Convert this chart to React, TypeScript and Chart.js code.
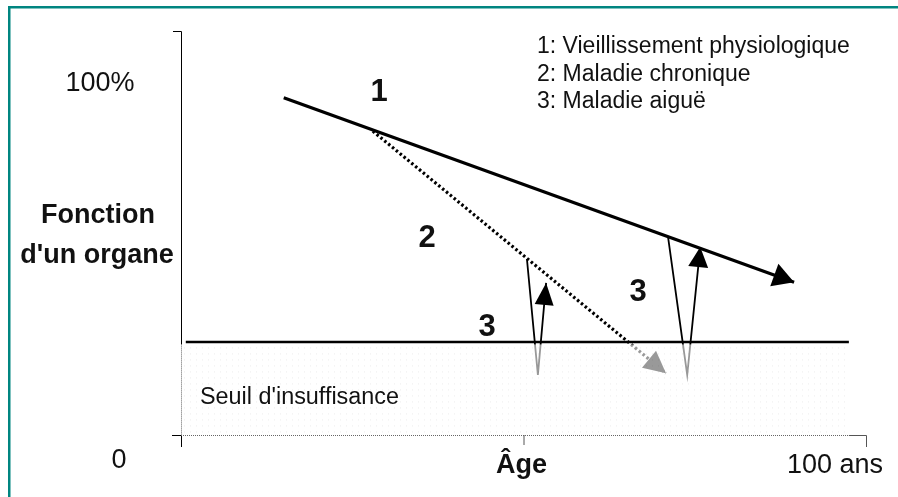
import React, { useEffect, useRef } from "react";
import { Chart, registerables } from "chart.js";
Chart.register(...registerables);

// ---- data (age 0..100 on x, organ function % on y) ----
const agingLine = [
  { x: 15, y: 96 },
  { x: 89.5, y: 43.5 },
];
const chronicLine = [
  { x: 28, y: 86.5 },
  { x: 70.8, y: 17.6 },
];
const acuteA = [
  { x: 50.5, y: 50.1 },
  { x: 52.1, y: 17.1 },
  { x: 53.3, y: 43.3 },
];
const acuteB = [
  { x: 71.1, y: 56.4 },
  { x: 73.9, y: 17.1 },
  { x: 75.8, y: 53.5 },
];
const thresholdValue = 26.5;
const thresholdRange = [0.7, 97.5];
const xRange = [0, 100];
const yRange = [0, 115];
const xMidTick = 50;
const legendLines = ["1: Vieillissement physiologique", "2: Maladie chronique", "3: Maladie aiguë"];
const yTickLabels = ["0", "100%"];
const xTickLabels = ["Âge", "100 ans"];
const yTitle = ["Fonction", "d'un organe"];
const thresholdLabel = "Seuil d'insuffisance";
const curveNumbers = ["1", "2", "3", "3"];

const FONT = '"Liberation Sans", Arial, Helvetica, sans-serif';
const INK = "#111";

function arrowHead(ctx: CanvasRenderingContext2D, from: any, tip: any, len: number, half: number, color: string) {
  const ang = Math.atan2(tip.y - from.y, tip.x - from.x);
  const c = Math.cos(ang), s = Math.sin(ang);
  const bx = tip.x - len * c, by = tip.y - len * s;
  ctx.save();
  ctx.fillStyle = color;
  ctx.beginPath();
  ctx.moveTo(tip.x, tip.y);
  ctx.lineTo(bx + half * s, by - half * c);
  ctx.lineTo(bx - half * s, by + half * c);
  ctx.closePath();
  ctx.fill();
  ctx.restore();
}

const diagramPlugin = {
  id: "diagram",
  afterDatasetsDraw(chart: any) {
    const ctx: CanvasRenderingContext2D = chart.ctx;
    const xs = chart.scales.x, ys = chart.scales.y;
    const P = (p: any) => ({ x: xs.getPixelForValue(p.x), y: ys.getPixelForValue(p.y) });

    // arrowheads
    arrowHead(ctx, P(agingLine[0]), P(agingLine[1]), 21, 12, "#000");
    arrowHead(ctx, P(chronicLine[0]), P(chronicLine[1]), 22, 11, "#000");
    arrowHead(ctx, P(acuteA[1]), P(acuteA[2]), 22, 9.5, "#000");
    arrowHead(ctx, P(acuteB[1]), P(acuteB[2]), 20, 10, "#000");

    // insufficiency zone overlay (fades what lies beneath)
    const left = xs.getPixelForValue(xRange[0]);
    const right = xs.getPixelForValue(thresholdRange[1]);
    const top = ys.getPixelForValue(thresholdValue) + 2.5;
    const bottom = ys.getPixelForValue(0);
    ctx.save();
    ctx.fillStyle = "rgba(255,255,255,0.6)";
    ctx.fillRect(left, top, right - left, bottom - top);
    ctx.fillStyle = "rgba(0,0,0,0.08)";
    for (let yy = top + 3; yy < bottom - 1; yy += 6) {
      for (let xx = left + 3; xx < right; xx += 6) {
        ctx.fillRect(xx, yy, 1, 1);
      }
    }
    ctx.restore();

    // axes
    const x0 = xs.getPixelForValue(xRange[0]);
    const x1 = xs.getPixelForValue(xRange[1]);
    const y0 = ys.getPixelForValue(yRange[0]);
    const y1 = ys.getPixelForValue(yRange[1]);
    ctx.save();
    ctx.lineWidth = 1;
    ctx.strokeStyle = "#000";
    ctx.beginPath();
    ctx.moveTo(x0 - 8, y1 + 0.5);
    ctx.lineTo(x0 + 0.5, y1 + 0.5);
    ctx.lineTo(x0 + 0.5, top);
    ctx.stroke();
    ctx.beginPath();
    ctx.moveTo(x0 + 0.5, y0);
    ctx.lineTo(x0 + 0.5, y0 + 12);
    ctx.moveTo(x0 - 9, y0 + 0.5);
    ctx.lineTo(x0, y0 + 0.5);
    ctx.stroke();
    ctx.strokeStyle = "#666";
    ctx.setLineDash([1, 1]);
    ctx.beginPath();
    ctx.moveTo(x0 + 0.5, top);
    ctx.lineTo(x0 + 0.5, y0);
    ctx.moveTo(x0, y0 + 0.5);
    ctx.lineTo(right, y0 + 0.5);
    ctx.stroke();
    ctx.setLineDash([]);
    ctx.strokeStyle = "#555";
    ctx.beginPath();
    ctx.moveTo(right, y0 + 0.5);
    ctx.lineTo(x1 + 0.5, y0 + 0.5);
    ctx.lineTo(x1 + 0.5, y0 + 12);
    const xm = xs.getPixelForValue(xMidTick);
    ctx.moveTo(xm + 0.5, y0);
    ctx.lineTo(xm + 0.5, y0 + 10);
    ctx.stroke();
    ctx.restore();

    // texts
    const txt = (s: string, x: number, y: number, size: number, bold: boolean, align: CanvasTextAlign = "left", maxW?: number) => {
      ctx.font = `${bold ? "bold " : ""}${size}px ${FONT}`;
      ctx.textAlign = align;
      ctx.textBaseline = "alphabetic";
      ctx.fillStyle = INK;
      if (maxW) ctx.fillText(s, x, y, maxW);
      else ctx.fillText(s, x, y);
    };
    ctx.save();
    txt(yTickLabels[1], 100, 91, 27, false, "center");
    txt(yTickLabels[0], 119, 468, 27, false, "center");
    txt(yTitle[0], 98, 223, 27, true, "center");
    txt(yTitle[1], 97, 263, 27, true, "center");
    txt(xTickLabels[0], xm - 2, 473, 27, true, "center");
    txt(xTickLabels[1], 787, 473, 27, false, "left");
    legendLines.forEach((l, i) => txt(l, 537, 53 + i * 27.5, 23, false, "left", 316));
    txt(thresholdLabel, 200, 404, 23.5, false, "left", 199);
    txt(curveNumbers[0], 379, 101, 31, true, "center");
    txt(curveNumbers[1], 427, 247, 31, true, "center");
    txt(curveNumbers[2], 487, 336, 31, true, "center");
    txt(curveNumbers[3], 638, 301, 31, true, "center");
    ctx.restore();

    // frame
    ctx.save();
    ctx.fillStyle = "#008580";
    ctx.fillRect(8, 6, chart.width - 8, 2.5);
    ctx.fillRect(8, 6, 2.5, chart.height - 6);
    ctx.restore();
  },
};

export default function App() {
  const ref = useRef<HTMLCanvasElement | null>(null);
  useEffect(() => {
    if (!ref.current) return;
    const line = (data: any[], width: number, dash: number[] = []) => ({
      data,
      showLine: true,
      borderColor: "#000",
      borderWidth: width,
      borderDash: dash,
      pointRadius: 0,
      fill: false,
      tension: 0,
    });
    const chart = new Chart(ref.current, {
      type: "scatter",
      data: {
        datasets: [
          line(
            [
              { x: thresholdRange[0], y: thresholdValue },
              { x: thresholdRange[1], y: thresholdValue },
            ],
            2.5
          ),
          line(agingLine, 3.2),
          line(chronicLine, 3.2, [2.5, 2.5]),
          line(acuteA, 1.8),
          line(acuteB, 1.8),
        ] as any,
      },
      options: {
        animation: false,
        responsive: false,
        devicePixelRatio: 1,
        events: [],
        layout: { padding: { left: 181, right: 32, top: 31, bottom: 62 } },
        scales: {
          x: { type: "linear", min: xRange[0], max: xRange[1], display: false },
          y: { type: "linear", min: yRange[0], max: yRange[1], display: false },
        },
        plugins: { legend: { display: false }, tooltip: { enabled: false } },
      },
      plugins: [diagramPlugin],
    });
    return () => chart.destroy();
  }, []);
  return (
    <div style={{ position: "fixed", left: 0, top: 0, width: 898, height: 497, background: "#fff" }}>
      <canvas ref={ref} width={898} height={497} style={{ display: "block" }} />
    </div>
  );
}
